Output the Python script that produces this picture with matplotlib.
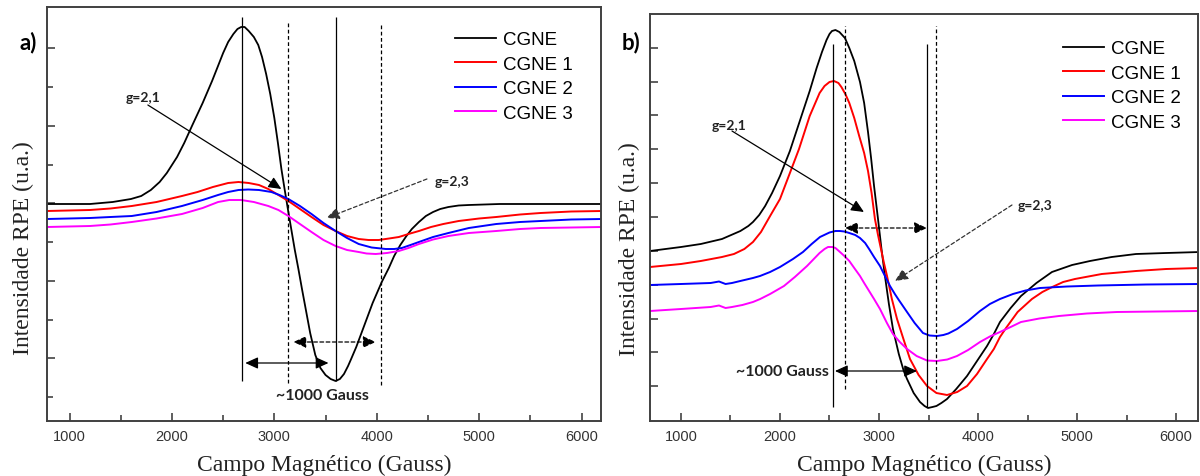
import matplotlib
matplotlib.use("Agg")
import matplotlib.pyplot as plt
from matplotlib.ticker import MultipleLocator


plt.rcParams['font.family'] = ['Liberation Sans', 'DejaVu Sans']

labels = ["CGNE", "CGNE 1", "CGNE 2", "CGNE 3"]
colors = ["black", "#ff0000", "#0000ff", "#ff00ff"]

# ---- panel a) : field (Gauss) / intensity (a.u.) ----
a_cgne_x = [780, 1000, 1200, 1421, 1600, 1700, 1794, 1880, 1950, 2050, 2120, 2200, 2300, 2392,
            2450, 2500, 2549, 2600, 2640, 2676, 2710, 2750, 2800, 2843, 2880, 2920, 2960, 3000,
            3035, 3069, 3100, 3137, 3170, 3200, 3235, 3270, 3310, 3350, 3400, 3450, 3500,
            3550, 3598, 3640, 3680, 3720, 3750, 3800, 3880, 3960, 4049, 4118, 4170, 4230, 4290,
            4343, 4412, 4480, 4550, 4620, 4700, 4800, 4900, 5200, 6200]
a_cgne_y = [217, 217, 217, 219, 222, 225, 231, 239, 248, 264, 278, 296, 318, 340,
            355, 368, 379, 387, 392, 394, 394, 390, 384, 376, 364, 347, 327, 303,
            278, 252, 232, 209, 189, 171, 152, 132, 110, 88, 66, 53, 46,
            42, 40, 42, 47, 55, 62, 74, 96, 118, 139, 153, 165, 176, 185,
            192, 199, 205, 209, 212, 214, 215.5, 216, 217, 217]

a_cgne1_x = [780, 1200, 1400, 1608, 1850, 2098, 2250, 2400, 2549, 2650, 2750, 2850, 2941, 3040,
             3137, 3250, 3363, 3480, 3598, 3710, 3824, 3920, 4020, 4120, 4216, 4310, 4412, 4530,
             4650, 4800, 5000, 5167, 5400, 5600, 5900, 6200]
a_cgne1_y = [210, 211, 212.5, 215, 219, 225, 229, 234, 238, 239, 238, 236, 232, 226,
             220, 212, 204, 196, 190, 185, 182, 181, 181, 182.5, 184, 187, 190, 194,
             197, 200, 202.5, 204, 206.5, 208, 209.5, 210]

a_cgne2_x = [780, 1200, 1400, 1608, 1850, 2098, 2300, 2450, 2549, 2650, 2745, 2850, 2971, 3050,
             3137, 3250, 3363, 3480, 3598, 3710, 3824, 3950, 4088, 4170, 4245, 4330, 4412, 4550,
             4700, 4900, 5167, 5400, 5600, 5900, 6200]
a_cgne2_y = [202, 203, 204, 205, 209, 215, 221, 226, 229, 231, 231.5, 231, 229, 226,
             222, 215, 207, 198, 190, 183, 177, 173.5, 172, 172, 173, 176, 179, 184,
             188, 193, 197, 199, 200, 201.5, 202]

a_cgne3_x = [780, 1200, 1400, 1608, 1850, 2098, 2300, 2451, 2560, 2676, 2800, 2941, 3040, 3137,
             3250, 3363, 3480, 3598, 3710, 3824, 3900, 3990, 4100, 4216, 4310, 4412, 4550, 4700,
             4900, 5167, 5400, 5600, 5900, 6200]
a_cgne3_y = [194, 195, 196.5, 199, 202.5, 207, 213, 219, 221, 221, 219, 215, 211, 205,
             197, 189, 181, 175, 171, 169, 167.5, 167, 168, 170, 173, 177, 181.5, 185,
             188, 190, 192, 193, 193.5, 194]

a_peaks = [2686, 3598]        # solid guide lines
a_halves = [3137, 4039]       # dashed guide lines

# ---- panel b) ----
b_cgne_x = [687, 1000, 1200, 1414, 1600, 1680, 1727, 1790, 1850, 1920, 2000, 2100, 2200, 2300,
            2370, 2424, 2470, 2500, 2525, 2560, 2600, 2656, 2700, 2750, 2808, 2850, 2889, 2920,
            2950, 2990, 3025, 3060, 3100, 3141, 3200, 3250, 3283, 3350, 3414, 3460, 3495, 3540,
            3580, 3630, 3687, 3780, 3889, 3990, 4091, 4160, 4222, 4330, 4434, 4590, 4747, 4950,
            5131, 5350, 5596, 5900, 6242]
b_cgne_y = [170, 174, 177, 182, 190, 195, 199, 206, 215, 228, 245, 270, 300, 330,
            353, 369, 381, 387, 390, 391, 389, 383, 373, 360, 339, 318, 289, 263,
            235, 202, 172, 145, 117, 92, 67, 50, 42, 28, 19, 15, 13, 14,
            15, 18, 22, 32, 45, 60, 75, 87, 99, 113, 125, 138, 149, 156,
            160, 164, 167, 168, 169]

b_cgne1_x = [687, 1000, 1200, 1414, 1535, 1640, 1727, 1808, 1900, 2000, 2100, 2192, 2300, 2400,
             2450, 2500, 2545, 2590, 2620, 2660, 2700, 2750, 2800, 2850, 2889, 2925, 2959, 2990,
             3020, 3050, 3081, 3130, 3182, 3250, 3313, 3400, 3485, 3580, 3687, 3790, 3889, 3990,
             4091, 4160, 4222, 4283, 4400, 4545, 4650, 4750, 4860, 4979, 5250, 5596, 5900, 6242]
b_cgne1_y = [154, 157, 160, 164, 167, 172, 179, 189, 205, 222, 248, 272, 305, 328,
             335, 339, 340, 338, 334, 327, 318, 303, 285, 268, 250, 228, 202, 186,
             172, 158, 145, 122, 102, 81, 62, 46, 35, 28, 26, 29, 35, 47,
             62, 72, 84, 93, 109, 122, 129, 134, 139, 142, 147, 150, 152, 153]

b_cgne2_x = [687, 1000, 1300, 1384, 1450, 1515, 1620, 1727, 1798, 1900, 2000, 2131, 2232, 2320,
             2404, 2500, 2560, 2606, 2650, 2700, 2760, 2808, 2860, 2900, 2950, 3010, 3060, 3111,
             3160, 3200, 3283, 3360, 3444, 3510, 3586, 3650, 3700, 3788, 3900, 4020, 4120, 4222,
             4353, 4480, 4626, 4900, 5212, 5700, 6242]
b_cgne2_y = [136, 137, 138, 139.5, 137, 138, 140.5, 143, 145, 149, 154, 162, 169, 177,
             184, 188.5, 190, 190, 189.5, 188, 186, 183, 178, 172, 164, 155, 145, 135,
             127, 121, 109, 98, 88, 85.5, 85, 86, 87.5, 92, 100, 110, 117, 122,
             127, 130.5, 133, 134.5, 135.5, 136.5, 137]

b_cgne3_x = [687, 1000, 1300, 1384, 1450, 1515, 1620, 1727, 1800, 1900, 2040, 2150, 2273, 2400,
             2450, 2485, 2530, 2560, 2606, 2650, 2700, 2750, 2808, 2850, 2900, 2950, 3010, 3080,
             3141, 3210, 3283, 3380, 3485, 3586, 3690, 3788, 3900, 4020, 4120, 4222, 4330, 4434,
             4620, 4818, 5100, 5404, 5800, 6242]
b_cgne3_y = [110, 112, 114, 115.5, 113, 114, 116, 119, 122, 127, 135, 144, 155, 168,
             172, 174, 174, 173, 169, 165, 160, 153, 145, 138, 130, 122, 112, 98,
             87, 79, 72, 65, 60.5, 60, 61.5, 65, 71, 79, 84.5, 89, 94, 99,
             102.5, 105, 107.5, 109, 109.5, 110]

b_peaks = [2535, 3485]
b_halves = [2657, 3576]


fig = plt.figure(figsize=(12, 4.77), dpi=100)
ax_a = fig.add_axes([47 / 1200, 55 / 477, 554 / 1200, 414 / 477])
ax_b = fig.add_axes([650 / 1200, 55 / 477, 548 / 1200, 407 / 477])

arrow_solid = dict(arrowstyle='-|>,head_length=0.55,head_width=0.25', color='black',
                   lw=0.9, shrinkA=0, shrinkB=0, mutation_scale=14)
arrow_dash = dict(arrowstyle='-|>,head_length=0.55,head_width=0.25', color='#333333',
                  lw=0.9, ls=(0, (3, 2)), shrinkA=0, shrinkB=0, mutation_scale=14)
double_solid = dict(arrow_solid, arrowstyle='<|-|>,head_length=0.55,head_width=0.25')
double_dash = dict(arrow_dash, arrowstyle='<|-|>,head_length=0.55,head_width=0.25', color='black')

note_font = dict(family=['Lato', 'DejaVu Sans'], fontweight='bold', color='#222222')


def style_axes(ax, xlim, ylim):
    ax.set_xlim(*xlim)
    ax.set_ylim(*ylim)
    ax.xaxis.set_major_locator(MultipleLocator(1000))
    ax.xaxis.set_minor_locator(MultipleLocator(500))
    ax.tick_params(which='both', direction='in', colors='#333333', labelsize=10.5, pad=6)
    ax.tick_params(which='major', length=6, width=1.1)
    ax.tick_params(which='minor', length=4, width=1.1)
    ax.tick_params(axis='y', labelleft=False)
    for s in ax.spines.values():
        s.set_color('#404040')
        s.set_linewidth(1.4)
    ax.set_xlabel("Campo Magnético (Gauss)", family=['Liberation Serif'], fontsize=17,
                  color='#222222')
    ax.set_ylabel("Intensidade RPE (u.a.)", family=['Liberation Serif'], fontsize=17,
                  color='#222222')


# ---------------- a) ----------------
ax = ax_a
series_a = [(a_cgne_x, a_cgne_y), (a_cgne1_x, a_cgne1_y), (a_cgne2_x, a_cgne2_y), (a_cgne3_x, a_cgne3_y)]
for (x, y), lab, c in zip(series_a, labels, colors):
    ax.plot(x, y, color=c, lw=1.3 if c == 'black' else 1.4, label=lab)

ax.vlines(a_peaks, [40, 40], [404, 404], colors='black', lw=0.9)
ax.vlines(a_halves, [38, 36], [400, 398], colors='black', lw=0.9, linestyles=(0, (3, 2)))

ax.annotate("", xy=(3069, 232), xytext=(1765, 316), arrowprops=arrow_solid)
ax.text(1716, 324, "g=2,1", ha='center', va='center', fontsize=10, **note_font)
ax.annotate("", xy=(3510, 203), xytext=(4490, 242), arrowprops=arrow_dash)
ax.text(4735, 240, "g=2,3", ha='center', va='center', fontsize=10, **note_font)
ax.annotate("", xy=(3990, 79), xytext=(3186, 79), arrowprops=double_dash)
ax.annotate("", xy=(3529, 58), xytext=(2716, 58), arrowprops=double_solid)
ax.text(3471, 26, "~1000 Gauss", ha='center', va='center', fontsize=11.5, **note_font)

style_axes(ax, (780, 6190), (0, 414))
ax.set_yticks([63, 140, 218, 295, 373])
ax.set_yticks([24, 101, 179, 256, 334], minor=True)
ax.yaxis.set_label_coords(-0.023, 0.42)
ax.xaxis.set_label_coords(0.5, -0.08)
ax.legend(loc='upper left', bbox_to_anchor=(0.736, 0.942), frameon=False, fontsize=13.5,
          handlelength=2.2, handletextpad=0.35, labelspacing=0.4, borderpad=0, borderaxespad=0)

# ---------------- b) ----------------
ax = ax_b
series_b = [(b_cgne_x, b_cgne_y), (b_cgne1_x, b_cgne1_y), (b_cgne2_x, b_cgne2_y), (b_cgne3_x, b_cgne3_y)]
for (x, y), lab, c in zip(series_b, labels, colors):
    ax.plot(x, y, color=c, lw=1.3 if c == 'black' else 1.4, label=lab)

ax.vlines(b_peaks, [14, 14], [377, 377], colors='black', lw=0.9)
ax.vlines(b_halves, [32, 32], [395, 395], colors='black', lw=0.9, linestyles=(0, (3, 2)))

ax.annotate("", xy=(2848, 209), xytext=(1515, 290), arrowprops=arrow_solid)
ax.text(1485, 296, "g=2,1", ha='center', va='center', fontsize=10, **note_font)
ax.annotate("", xy=(3161, 140), xytext=(4343, 216), arrowprops=arrow_dash)
ax.text(4575, 216, "g=2,3", ha='center', va='center', fontsize=10, **note_font)
ax.annotate("", xy=(3485, 193), xytext=(2657, 193), arrowprops=double_dash)
ax.annotate("", xy=(3384, 50), xytext=(2555, 50), arrowprops=double_solid)
ax.text(2495, 50, "~1000 Gauss", ha='right', va='center', fontsize=11.5, **note_font)

style_axes(ax, (687, 6222), (0, 407))
ax.set_yticks([35, 69, 102, 136, 170, 204, 238, 272, 306, 339, 373])
ax.yaxis.set_label_coords(-0.018, 0.425)
ax.xaxis.set_label_coords(0.5, -0.081)
ax.legend(loc='upper left', bbox_to_anchor=(0.754, 0.936), frameon=False, fontsize=13.5,
          handlelength=2.2, handletextpad=0.35, labelspacing=0.4, borderpad=0, borderaxespad=0)

fig.text(19 / 1200, 1 - 43 / 477, "a)", fontsize=16, fontweight='bold',
         family=['Lato', 'DejaVu Sans'], ha='left', va='center')
fig.text(622 / 1200, 1 - 43 / 477, "b)", fontsize=16, fontweight='bold',
         family=['Lato', 'DejaVu Sans'], ha='left', va='center')

fig.savefig("out.png", dpi=100)
